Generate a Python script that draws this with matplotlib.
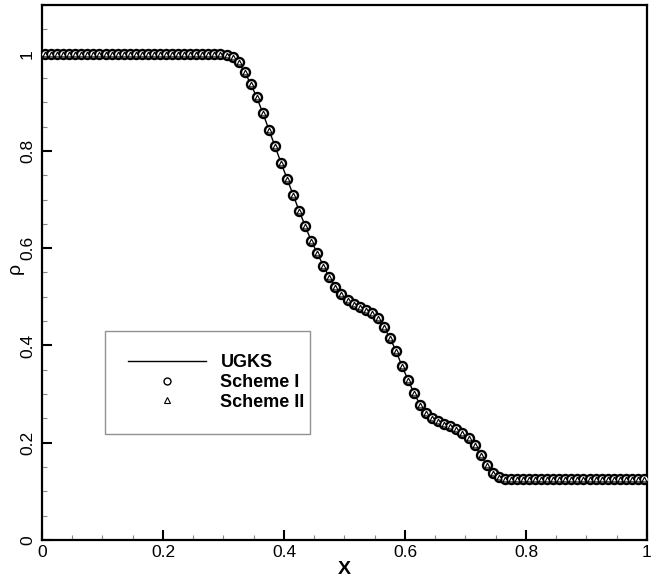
"""
Density profile: UGKS vs Scheme I / Scheme II
"""

import numpy as np
import matplotlib
matplotlib.use("Agg")
import matplotlib.pyplot as plt
from matplotlib.ticker import MultipleLocator
from matplotlib.lines import Line2D

plt.rcParams['font.family'] = ['Liberation Sans', 'DejaVu Sans']

# cell centres, dx = 0.01
x = np.linspace(0.005, 0.995, 100)

# density
rho_ugks = [1.0] * 30 + [
    0.998, 0.993, 0.982, 0.962, 0.938, 0.910, 0.878, 0.844, 0.810, 0.776,
    0.743, 0.710, 0.677, 0.646, 0.615, 0.590, 0.564, 0.540, 0.521, 0.506,
    0.494, 0.485, 0.479, 0.473, 0.466, 0.456, 0.438, 0.416, 0.389, 0.358,
    0.329, 0.302, 0.278, 0.261, 0.251, 0.244, 0.239, 0.234, 0.228, 0.220,
    0.210, 0.195, 0.175, 0.154, 0.138, 0.129, 0.126,
] + [0.125] * 23

rho_scheme1 = list(rho_ugks)
rho_scheme2 = list(rho_ugks)

labels = ["UGKS", "Scheme I", "Scheme II"]

fig = plt.figure(figsize=(6.52, 5.82), dpi=100)
ax = fig.add_axes([0.0644, 0.0722, 0.9279, 0.9192])

ax.plot(x, rho_ugks, color='black', lw=1.0, zorder=2)
ax.plot(x, rho_scheme1, ls='none', marker='o', ms=6.5, mfc='white',
        mec='black', mew=1.7, zorder=3)
ax.plot(x, rho_scheme2, ls='none', marker='^', ms=3.5, mfc='white',
        mec='black', mew=0.8, zorder=4)

ax.set_xlim(0, 1)
ax.set_ylim(0, 1.1)

ax.xaxis.set_major_locator(MultipleLocator(0.2))
ax.xaxis.set_minor_locator(MultipleLocator(0.05))
ax.yaxis.set_major_locator(MultipleLocator(0.2))
ax.yaxis.set_minor_locator(MultipleLocator(0.05))
ax.xaxis.set_major_formatter(plt.FuncFormatter(lambda v, p: f"{v:g}"))
ax.yaxis.set_major_formatter(plt.FuncFormatter(lambda v, p: f"{v:g}"))

ax.tick_params(which='both', direction='in', top=False, right=False)
ax.tick_params(which='major', length=7, width=1.5, labelsize=12.5)
ax.tick_params(which='minor', length=3.5, width=0.8, color='#888888')
ax.tick_params(axis='y', which='major', labelrotation=90, pad=5)
for lab in ax.get_yticklabels():
    lab.set_verticalalignment('center')

for sp in ax.spines.values():
    sp.set_linewidth(1.6)

ax.set_xlabel("X", fontsize=14, fontweight='bold', labelpad=1)
ax.set_ylabel("ρ", fontsize=14)
ax.yaxis.set_label_coords(-0.030, 0.508)

# legend proxies: small thin markers, as in the original
handles = [
    Line2D([], [], color='black', lw=1.0),
    Line2D([], [], ls='none', marker='o', ms=5, mfc='white', mec='black', mew=1.0),
    Line2D([], [], ls='none', marker='^', ms=5, mfc='white', mec='black', mew=0.8),
]
leg = ax.legend(handles, labels, loc='upper left',
                bbox_to_anchor=(0.104, 0.206, 0.339, 0.185),
                mode='expand', frameon=True, fancybox=False, borderpad=1.3,
                borderaxespad=0.0, labelspacing=0.15, handlelength=4.3,
                handletextpad=0.8, prop={'weight': 'bold', 'size': 13})
leg.get_frame().set_edgecolor('#777777')
leg.get_frame().set_linewidth(1.0)

fig.savefig("out.png", dpi=100)
